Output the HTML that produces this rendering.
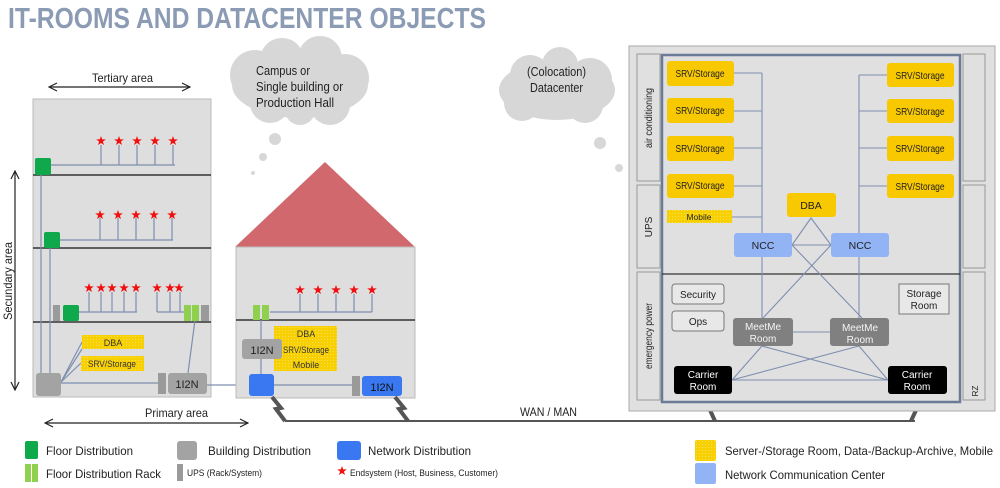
<!DOCTYPE html>
<html><head><meta charset="utf-8"><style>
html,body{margin:0;padding:0;background:#fff;}
svg{display:block;font-family:"Liberation Sans",sans-serif;}
</style></head><body>
<svg width="1000" height="488" viewBox="0 0 1000 488" xmlns="http://www.w3.org/2000/svg">
<defs>
<marker id="ah" markerWidth="10" markerHeight="10" refX="9" refY="5" orient="auto-start-reverse" markerUnits="userSpaceOnUse"><path d="M1,1 L9,5 L1,9" fill="none" stroke="#222" stroke-width="1.2"/></marker>
<pattern id="hat" width="3" height="3" patternUnits="userSpaceOnUse"><rect width="3" height="3" fill="#f8d000"/><rect width="1" height="1" fill="#f4e060"/></pattern>
<g id="star"><polygon points="0,-5 1.2,-1.6 4.8,-1.6 1.9,0.6 3,4 0,2 -3,4 -1.9,0.6 -4.8,-1.6 -1.2,-1.6" fill="#f01010"/></g>
</defs>
<text x="8" y="28" font-size="29" font-weight="bold" fill="#8b9bb4" textLength="478" lengthAdjust="spacingAndGlyphs">IT-ROOMS AND DATACENTER OBJECTS</text>

<!-- clouds -->
<g fill="#d7d7d7">
<ellipse cx="300" cy="85" rx="68" ry="33"/><circle cx="255" cy="75" r="25"/><circle cx="282" cy="60" r="22"/><circle cx="320" cy="58" r="22"/><circle cx="345" cy="78" r="24"/><circle cx="330" cy="105" r="20"/><circle cx="270" cy="103" r="20"/><circle cx="300" cy="110" r="15"/>
<circle cx="275" cy="139" r="6"/><circle cx="263" cy="157" r="4"/><circle cx="253" cy="173" r="2"/>
<ellipse cx="557" cy="90" rx="58" ry="30"/><circle cx="530" cy="75" r="20"/><circle cx="560" cy="65" r="18"/><circle cx="590" cy="80" r="22"/><circle cx="522" cy="103" r="18"/><circle cx="585" cy="105" r="18"/>
<circle cx="600" cy="143" r="6"/><circle cx="619" cy="168" r="4"/>
</g>
<g font-size="12.5" fill="#222" lengthAdjust="spacingAndGlyphs">
<text x="256" y="75" textLength="54" lengthAdjust="spacingAndGlyphs">Campus or</text><text x="256" y="91" textLength="87" lengthAdjust="spacingAndGlyphs">Single building or</text><text x="256" y="107" textLength="78" lengthAdjust="spacingAndGlyphs">Production Hall</text>
<text x="527" y="76" textLength="59" lengthAdjust="spacingAndGlyphs">(Colocation)</text><text x="530" y="92" textLength="53" lengthAdjust="spacingAndGlyphs">Datacenter</text>
</g>

<!-- arrows -->
<g stroke="#222" stroke-width="1.2" fill="none">
<line x1="49" y1="87" x2="190" y2="87" marker-start="url(#ah)" marker-end="url(#ah)"/>
<line x1="15" y1="171" x2="15" y2="390" marker-start="url(#ah)" marker-end="url(#ah)"/>
<line x1="45" y1="423" x2="248" y2="423" marker-start="url(#ah)" marker-end="url(#ah)"/>
</g>
<text x="92" y="82" font-size="12" fill="#222" textLength="61" lengthAdjust="spacingAndGlyphs">Tertiary area</text>
<text x="145" y="417" font-size="12" fill="#222" textLength="63" lengthAdjust="spacingAndGlyphs">Primary area</text>
<text transform="translate(12,320) rotate(-90)" font-size="12" fill="#222" textLength="78" lengthAdjust="spacingAndGlyphs">Secundary area</text>

<!-- left building -->
<rect x="33" y="99" width="178" height="298" fill="#dedede" stroke="#bbb"/>
<g stroke="#333" stroke-width="1.5"><line x1="33" y1="175" x2="211" y2="175"/><line x1="33" y1="248" x2="211" y2="248"/><line x1="33" y1="322" x2="211" y2="322"/></g>
<g stroke="#7f8fb0" stroke-width="1.2" fill="none">
<line x1="50" y1="165" x2="175" y2="165"/>
<line x1="101" y1="145" x2="101" y2="165"/><line x1="119" y1="145" x2="119" y2="165"/><line x1="137" y1="145" x2="137" y2="165"/><line x1="155" y1="145" x2="155" y2="165"/><line x1="173" y1="145" x2="173" y2="165"/>
<line x1="60" y1="240" x2="173" y2="240"/>
<line x1="100" y1="218" x2="100" y2="240"/><line x1="118" y1="218" x2="118" y2="240"/><line x1="136" y1="218" x2="136" y2="240"/><line x1="154" y1="218" x2="154" y2="240"/><line x1="172" y1="218" x2="172" y2="240"/>
<line x1="79" y1="312" x2="137" y2="312"/>
<line x1="89" y1="292" x2="89" y2="312"/><line x1="101" y1="292" x2="101" y2="312"/><line x1="112" y1="292" x2="112" y2="312"/><line x1="124" y1="292" x2="124" y2="312"/><line x1="136" y1="292" x2="136" y2="312"/>
<line x1="157" y1="312" x2="184" y2="312"/>
<line x1="157" y1="292" x2="157" y2="312"/><line x1="170" y1="292" x2="170" y2="312"/><line x1="180" y1="292" x2="180" y2="312"/>
<line x1="41" y1="175" x2="41" y2="375"/><line x1="50" y1="248" x2="50" y2="375"/>
<line x1="61" y1="383" x2="158" y2="383"/>
<line x1="61" y1="382" x2="82" y2="342"/><line x1="61" y1="382" x2="81" y2="363"/><line x1="61" y1="382" x2="82" y2="349"/>
<line x1="188" y1="373" x2="195" y2="320"/>
<line x1="207" y1="385" x2="249" y2="385"/>
</g>
<g>
<use href="#star" x="101" y="141"/><use href="#star" x="119" y="141"/><use href="#star" x="137" y="141"/><use href="#star" x="155" y="141"/><use href="#star" x="173" y="141"/>
<use href="#star" x="100" y="215"/><use href="#star" x="118" y="215"/><use href="#star" x="136" y="215"/><use href="#star" x="154" y="215"/><use href="#star" x="172" y="215"/>
<use href="#star" x="89" y="288"/><use href="#star" x="101" y="288"/><use href="#star" x="112" y="288"/><use href="#star" x="124" y="288"/><use href="#star" x="136" y="288"/>
<use href="#star" x="157" y="288"/><use href="#star" x="170" y="288"/><use href="#star" x="179" y="288"/>
</g>
<rect x="35" y="158" width="16" height="17" rx="2" fill="#0fa84a"/>
<rect x="44" y="232" width="16" height="16" rx="2" fill="#0fa84a"/>
<rect x="53" y="305" width="7" height="16" fill="#9a9a9a"/>
<rect x="63" y="305" width="16" height="16" rx="2" fill="#0fa84a"/>
<rect x="184" y="305" width="7" height="16" fill="#8fd14f"/><rect x="192" y="305" width="7" height="16" fill="#8fd14f"/>
<rect x="201" y="305" width="8" height="16" fill="#9a9a9a"/>
<rect x="82" y="335" width="62" height="14" fill="url(#hat)"/>
<text x="113" y="346" font-size="9" text-anchor="middle" fill="#333">DBA</text>
<rect x="81" y="356" width="63" height="15" fill="url(#hat)"/>
<text x="112" y="367" font-size="9" text-anchor="middle" fill="#333" textLength="48" lengthAdjust="spacingAndGlyphs">SRV/Storage</text>
<rect x="36" y="373" width="25" height="23" rx="3" fill="#a3a3a3"/>
<rect x="158" y="373" width="8" height="21" fill="#9a9a9a"/>
<rect x="168" y="373" width="39" height="21" rx="3" fill="#a3a3a3"/>
<text x="187" y="388" font-size="11" text-anchor="middle" fill="#222">1I2N</text>

<!-- house -->
<polygon points="235,247 325,162 415,247" fill="#d0686d"/>
<rect x="236" y="247" width="179" height="151" fill="#dedede" stroke="#bbb"/>
<line x1="236" y1="320" x2="415" y2="320" stroke="#333" stroke-width="1.5"/>
<g stroke="#7f8fb0" stroke-width="1.2">
<line x1="270" y1="312" x2="372" y2="312"/>
<line x1="300" y1="294" x2="300" y2="312"/><line x1="318" y1="294" x2="318" y2="312"/><line x1="336" y1="294" x2="336" y2="312"/><line x1="354" y1="294" x2="354" y2="312"/><line x1="372" y1="294" x2="372" y2="312"/>
<line x1="261" y1="320" x2="261" y2="374"/>
<line x1="274" y1="385" x2="352" y2="385"/>
</g>
<use href="#star" x="300" y="290"/><use href="#star" x="318" y="290"/><use href="#star" x="336" y="290"/><use href="#star" x="354" y="290"/><use href="#star" x="372" y="290"/>
<rect x="253" y="305" width="7" height="15" fill="#8fd14f"/><rect x="262" y="305" width="7" height="15" fill="#8fd14f"/>
<rect x="274" y="326" width="63" height="45" fill="url(#hat)"/>
<g font-size="9" text-anchor="middle" fill="#333"><text x="306" y="337">DBA</text><text x="306" y="353" textLength="46" lengthAdjust="spacingAndGlyphs">SRV/Storage</text><text x="306" y="368">Mobile</text></g>
<rect x="242" y="339" width="40" height="20" rx="3" fill="#a3a3a3"/>
<text x="262" y="354" font-size="11" text-anchor="middle" fill="#222">1I2N</text>
<rect x="249" y="374" width="25" height="22" rx="3" fill="#3a78f2"/>
<rect x="352" y="376" width="8" height="20" fill="#9a9a9a"/>
<rect x="362" y="376" width="40" height="20" rx="3" fill="#3a78f2"/>
<text x="382" y="391" font-size="11" text-anchor="middle" fill="#111">1I2N</text>

<!-- WAN -->
<line x1="285" y1="421" x2="915" y2="421" stroke="#555" stroke-width="2"/>
<text x="520" y="416" font-size="12" fill="#222" textLength="57" lengthAdjust="spacingAndGlyphs">WAN / MAN</text>
<g stroke="#555" stroke-width="4" fill="none" stroke-linejoin="miter">
<polyline points="272,397 281,408 276,409 285,421"/>
<polyline points="395,397 404,408 399,409 408,421"/>
<polyline points="707,396 714,407 709,408 715,421"/>
<polyline points="918,396 912,407 917,408 911,421"/>
</g>

<!-- datacenter -->
<rect x="629" y="46" width="366" height="365" fill="#e0e0e0" stroke="#aaa"/>
<g fill="#e0e0e0" stroke="#999">
<rect x="637" y="54" width="23" height="127"/><rect x="637" y="185" width="23" height="83"/><rect x="637" y="272" width="23" height="128"/>
<rect x="963" y="54" width="22" height="127"/><rect x="963" y="185" width="22" height="83"/><rect x="963" y="272" width="22" height="128"/>
</g>
<g font-size="10" fill="#222" text-anchor="middle">
<text transform="translate(652,118) rotate(-90)" textLength="60" lengthAdjust="spacingAndGlyphs">air conditioning</text>
<text transform="translate(652,227) rotate(-90)">UPS</text>
<text transform="translate(652,336) rotate(-90)" textLength="66" lengthAdjust="spacingAndGlyphs">emergency power</text>
<text transform="translate(978,391) rotate(-90)" font-size="8">RZ</text>
</g>
<rect x="662" y="55" width="298" height="347" fill="#e0e0e0" stroke="#6b7b95" stroke-width="2.5"/>
<line x1="662" y1="274" x2="960" y2="274" stroke="#333" stroke-width="1.2"/>
<g stroke="#7f8fb0" stroke-width="1.1" fill="none">
<line x1="762" y1="73" x2="762" y2="318"/><line x1="734" y1="73" x2="762" y2="73"/><line x1="734" y1="111" x2="762" y2="111"/><line x1="734" y1="148" x2="762" y2="148"/><line x1="734" y1="186" x2="762" y2="186"/><line x1="732" y1="217" x2="762" y2="217"/>
<line x1="859" y1="75" x2="859" y2="318"/><line x1="859" y1="75" x2="887" y2="75"/><line x1="859" y1="111" x2="887" y2="111"/><line x1="859" y1="148" x2="887" y2="148"/><line x1="859" y1="186" x2="887" y2="186"/>
<polyline points="792,245 811,218 831,245 792,245"/>
<line x1="792" y1="245" x2="862" y2="318"/><line x1="831" y1="245" x2="763" y2="318"/>
<line x1="793" y1="332" x2="830" y2="332"/>
<line x1="732" y1="380" x2="888" y2="380"/>
<line x1="732" y1="380" x2="762" y2="346"/><line x1="732" y1="380" x2="859" y2="346"/>
<line x1="888" y1="380" x2="762" y2="346"/><line x1="888" y1="380" x2="859" y2="346"/>
</g>
<g fill="#f8c800">
<rect x="667" y="61" width="67" height="25" rx="3"/><rect x="667" y="98" width="67" height="25" rx="3"/><rect x="667" y="136" width="67" height="25" rx="3"/><rect x="667" y="174" width="67" height="24" rx="3"/>
<rect x="887" y="63" width="67" height="24" rx="3"/><rect x="887" y="99" width="67" height="24" rx="3"/><rect x="887" y="136" width="67" height="25" rx="3"/><rect x="887" y="174" width="67" height="24" rx="3"/>
<rect x="787" y="193" width="49" height="24" rx="3"/>
</g>
<rect x="667" y="210" width="65" height="13" fill="url(#hat)"/>
<g font-size="10.5" fill="#222" text-anchor="middle">
<g lengthAdjust="spacingAndGlyphs">
<text x="700" y="77" textLength="49" lengthAdjust="spacingAndGlyphs">SRV/Storage</text><text x="700" y="114" textLength="49" lengthAdjust="spacingAndGlyphs">SRV/Storage</text><text x="700" y="152" textLength="49" lengthAdjust="spacingAndGlyphs">SRV/Storage</text><text x="700" y="189" textLength="49" lengthAdjust="spacingAndGlyphs">SRV/Storage</text>
<text x="920" y="79" textLength="49" lengthAdjust="spacingAndGlyphs">SRV/Storage</text><text x="920" y="115" textLength="49" lengthAdjust="spacingAndGlyphs">SRV/Storage</text><text x="920" y="152" textLength="49" lengthAdjust="spacingAndGlyphs">SRV/Storage</text><text x="920" y="190" textLength="49" lengthAdjust="spacingAndGlyphs">SRV/Storage</text>
</g>
<text x="811" y="209">DBA</text>
<text x="699" y="220" font-size="8.5">Mobile</text>
</g>
<rect x="734" y="233" width="58" height="24" rx="3" fill="#92b4f5"/>
<rect x="831" y="233" width="58" height="24" rx="3" fill="#92b4f5"/>
<text x="763" y="249" font-size="10.5" text-anchor="middle" fill="#222">NCC</text>
<text x="860" y="249" font-size="10.5" text-anchor="middle" fill="#222">NCC</text>
<g fill="#e8e8e8" stroke="#777">
<rect x="672" y="284" width="52" height="20" rx="3"/><rect x="672" y="311" width="52" height="20" rx="3"/>
<rect x="899" y="284" width="50" height="30"/>
</g>
<g font-size="10" text-anchor="middle" fill="#222">
<text x="698" y="298">Security</text><text x="698" y="325">Ops</text>
<text x="924" y="297">Storage</text><text x="924" y="309">Room</text>
</g>
<rect x="733" y="318" width="60" height="28" rx="3" fill="#808080"/>
<rect x="830" y="318" width="59" height="28" rx="3" fill="#808080"/>
<g font-size="10" text-anchor="middle" fill="#f4f4f4">
<text x="763" y="330">MeetMe</text><text x="763" y="342">Room</text>
<text x="860" y="331">MeetMe</text><text x="860" y="343">Room</text>
</g>
<rect x="674" y="366" width="58" height="28" rx="3" fill="#000"/>
<rect x="888" y="366" width="59" height="28" rx="3" fill="#000"/>
<g font-size="10" text-anchor="middle" fill="#fff">
<text x="703" y="378">Carrier</text><text x="703" y="390">Room</text>
<text x="917" y="378">Carrier</text><text x="917" y="390">Room</text>
</g>

<!-- legend -->
<rect x="25" y="441" width="13" height="18" rx="2" fill="#0fa84a"/>
<text x="46" y="455" font-size="12" fill="#222" textLength="87" lengthAdjust="spacingAndGlyphs">Floor Distribution</text>
<rect x="177" y="441" width="20" height="19" rx="3" fill="#a3a3a3"/>
<text x="208" y="455" font-size="12" fill="#222" textLength="103" lengthAdjust="spacingAndGlyphs">Building Distribution</text>
<rect x="337" y="441" width="24" height="19" rx="3" fill="#3a78f2"/>
<text x="368" y="455" font-size="12" fill="#222" textLength="103" lengthAdjust="spacingAndGlyphs">Network Distribution</text>
<rect x="695" y="440" width="21" height="21" rx="2" fill="url(#hat)"/>
<text x="725" y="455" font-size="12" fill="#222" textLength="268" lengthAdjust="spacingAndGlyphs">Server-/Storage Room, Data-/Backup-Archive, Mobile</text>
<rect x="25" y="464" width="6" height="18" fill="#8fd14f"/><rect x="32" y="464" width="6" height="18" fill="#8fd14f"/>
<text x="46" y="478" font-size="12" fill="#222" textLength="115" lengthAdjust="spacingAndGlyphs">Floor Distribution Rack</text>
<rect x="177" y="464" width="6" height="17" fill="#9a9a9a"/>
<text x="187" y="476" font-size="9" fill="#222" textLength="75" lengthAdjust="spacingAndGlyphs">UPS (Rack/System)</text>
<use href="#star" x="342" y="471"/>
<text x="350" y="476" font-size="9" fill="#222" textLength="148" lengthAdjust="spacingAndGlyphs">Endsystem (Host, Business, Customer)</text>
<rect x="695" y="463" width="21" height="21" rx="2" fill="#92b4f5"/>
<text x="725" y="479" font-size="12" fill="#222" textLength="160" lengthAdjust="spacingAndGlyphs">Network Communication Center</text>
</svg>
</body></html>
